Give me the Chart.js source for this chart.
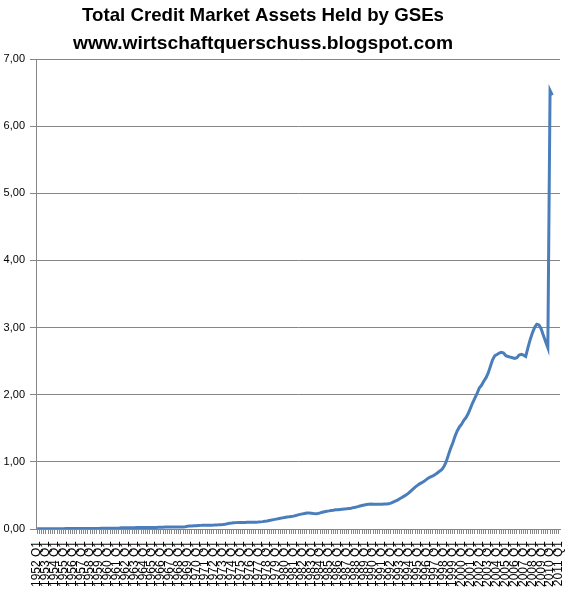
<!DOCTYPE html>
<html>
<head>
<meta charset="utf-8">
<script src="https://cdn.jsdelivr.net/npm/chart.js@4.4.0/dist/chart.umd.min.js"></script>
<style>
  html, body { margin: 0; padding: 0; background: #fff; }
  #wrap { width: 567px; height: 592px; position: relative; }
</style>
</head>
<body>
<div id="wrap"><canvas id="gseChart"></canvas></div>
<script>
// --- Daten ---
const titleLines = ['Total Credit Market Assets Held by GSEs', 'www.wirtschaftquerschuss.blogspot.com'];
const firstYear = 1952;
const lastYear = 2011;
const quarters = ['Q1', 'Q2', 'Q3', 'Q4'];
const yTicks = [0, 1, 2, 3, 4, 5, 6, 7];

// Bio. USD, quartalsweise ab 1952 Q1
const gseAssets = [
  0.004, 0.004, 0.004, 0.004,   // 1952
  0.004, 0.004, 0.004, 0.005,   // 1953
  0.005, 0.005, 0.005, 0.005,   // 1954
  0.005, 0.006, 0.006, 0.006,   // 1955
  0.006, 0.006, 0.007, 0.007,   // 1956
  0.007, 0.008, 0.008, 0.008,   // 1957
  0.008, 0.008, 0.008, 0.009,   // 1958
  0.009, 0.010, 0.010, 0.010,   // 1959
  0.011, 0.011, 0.011, 0.011,   // 1960
  0.011, 0.012, 0.018, 0.019,   // 1961
  0.019, 0.019, 0.020, 0.020,   // 1962
  0.020, 0.021, 0.021, 0.022,   // 1963
  0.022, 0.022, 0.023, 0.023,   // 1964
  0.023, 0.024, 0.024, 0.025,   // 1965
  0.026, 0.027, 0.028, 0.028,   // 1966
  0.028, 0.028, 0.029, 0.029,   // 1967
  0.029, 0.030, 0.031, 0.034,   // 1968
  0.040, 0.044, 0.046, 0.048,   // 1969
  0.050, 0.052, 0.054, 0.055,   // 1970
  0.055, 0.055, 0.056, 0.057,   // 1971
  0.058, 0.060, 0.062, 0.065,   // 1972
  0.068, 0.072, 0.078, 0.085,   // 1973
  0.088, 0.092, 0.095, 0.097,   // 1974
  0.097, 0.098, 0.098, 0.099,   // 1975
  0.099, 0.100, 0.100, 0.102,   // 1976
  0.103, 0.106, 0.110, 0.115,   // 1977
  0.120, 0.127, 0.133, 0.140,   // 1978
  0.147, 0.153, 0.160, 0.166,   // 1979
  0.172, 0.178, 0.182, 0.187,   // 1980
  0.192, 0.200, 0.210, 0.218,   // 1981
  0.225, 0.232, 0.238, 0.240,   // 1982
  0.235, 0.230, 0.228, 0.232,   // 1983
  0.240, 0.250, 0.258, 0.265,   // 1984
  0.270, 0.276, 0.280, 0.285,   // 1985
  0.288, 0.292, 0.295, 0.298,   // 1986
  0.300, 0.305, 0.310, 0.318,   // 1987
  0.325, 0.333, 0.342, 0.350,   // 1988
  0.358, 0.365, 0.370, 0.372,   // 1989
  0.370, 0.368, 0.368, 0.370,   // 1990
  0.370, 0.371, 0.372, 0.375,   // 1991
  0.385, 0.400, 0.415, 0.430,   // 1992
  0.450, 0.470, 0.490, 0.510,   // 1993
  0.535, 0.565, 0.595, 0.625,   // 1994
  0.650, 0.672, 0.690, 0.710,   // 1995
  0.735, 0.760, 0.775, 0.790,   // 1996
  0.810, 0.835, 0.860, 0.885,   // 1997
  0.930, 1.000, 1.100, 1.200,   // 1998
  1.280, 1.380, 1.460, 1.520,   // 1999
  1.560, 1.620, 1.660, 1.720,   // 2000
  1.800, 1.880, 1.950, 2.020,   // 2001
  2.100, 2.140, 2.200, 2.250,   // 2002
  2.320, 2.420, 2.520, 2.580,   // 2003
  2.600, 2.620, 2.630, 2.620,   // 2004
  2.580, 2.570, 2.560, 2.550,   // 2005
  2.540, 2.550, 2.590, 2.600,   // 2006
  2.590, 2.570, 2.700, 2.820,   // 2007
  2.920, 3.000, 3.050, 3.040,   // 2008
  2.980, 2.880, 2.790, 2.700,   // 2009
  6.530, 6.460                  // 2010
];

// Kategorien 1952 Q1 ... 2011 Q1
const labels = [];
for (let y = firstYear; y <= lastYear; y++) {
  for (const q of quarters) {
    labels.push(`${y} ${q}`);
    if (y === lastYear) break;
  }
}

// --- Titel (zentriert wie im Original, leicht links der Mitte) ---
const titlePlugin = {
  id: 'xlTitle',
  afterDraw(chart) {
    const c = chart.ctx;
    const cx = 263;
    const rows = [{ text: titleLines[0], y: 21, w: 362 }, { text: titleLines[1], y: 49, w: 380 }];
    c.save();
    c.fillStyle = '#000';
    c.font = 'bold 19px "Liberation Sans", Arial, sans-serif';
    c.textBaseline = 'alphabetic';
    c.textAlign = 'center';
    rows.forEach(r => {
      const m = c.measureText(r.text).width;
      const sx = r.w / m;
      c.save();
      c.translate(cx, r.y);
      c.scale(sx, 1);
      c.fillText(r.text, 0, 0);
      c.restore();
    });
    c.restore();
  }
};

const axisGray = '#868686';

new Chart(document.getElementById('gseChart'), {
  type: 'line',
  data: {
    labels: labels,
    datasets: [{
      data: gseAssets,
      borderColor: '#4a7ebb',
      borderWidth: 3,
      pointRadius: 0,
      tension: 0,
      fill: false
    }]
  },
  options: {
    responsive: true,
    maintainAspectRatio: false,
    animation: false,
    layout: { padding: { top: 59, right: 0, left: 0, bottom: 0 } },
    plugins: {
      legend: { display: false },
      title: { display: false },
      tooltip: { enabled: false }
    },
    scales: {
      x: {
        offset: true,
        afterFit: s => { s.height = 63; s.paddingRight = 7; s.paddingLeft = 0; },
        border: { color: axisGray, width: 1 },
        grid: { drawOnChartArea: false, drawTicks: true, tickLength: 5, color: axisGray, offset: false },
        ticks: {
          autoSkip: false,
          maxRotation: 90,
          minRotation: 90,
          padding: 7,
          color: '#000',
          font: { family: '"Liberation Sans", Arial, sans-serif', size: 12 },
          callback: function (v, i) { return i % 4 === 0 ? this.getLabelForValue(v) : ''; }
        }
      },
      y: {
        min: 0,
        max: 7,
        afterFit: s => { s.width = 36; },
        afterBuildTicks: s => { s.ticks = yTicks.map(v => ({ value: v })); },
        border: { color: axisGray, width: 1 },
        grid: { color: axisGray, tickLength: 6, lineWidth: 1 },
        ticks: {
          padding: 5,
          color: '#000',
          font: { family: '"Liberation Sans", Arial, sans-serif', size: 11 },
          callback: v => v.toFixed(2).replace('.', ',')
        }
      }
    }
  },
  plugins: [titlePlugin]
});
</script>
</body>
</html>
